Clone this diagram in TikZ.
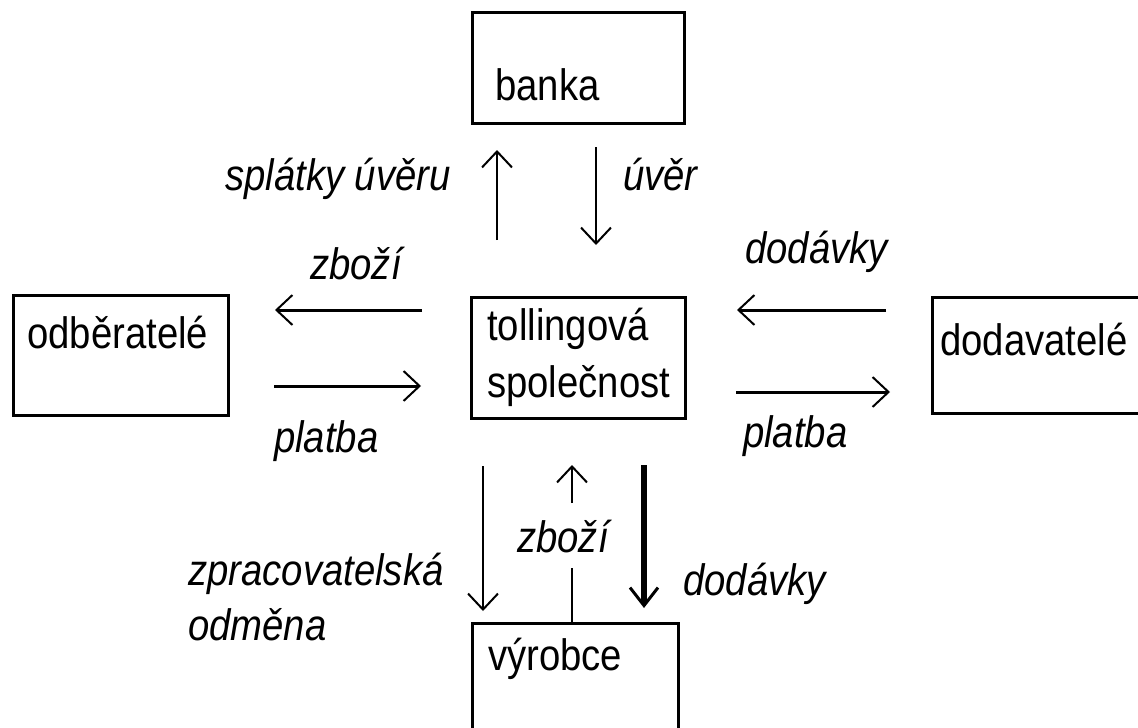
\documentclass[tikz,border=0pt]{standalone}
\usepackage{fontspec}
\setmainfont{Liberation Sans}[FakeStretch=0.87]
\usetikzlibrary{arrows.meta}
\begin{document}
\begin{tikzpicture}[x=1pt, y=-1pt,
  box/.style={draw, line width=3pt, inner sep=0pt},
  txt/.style={inner sep=0pt, anchor=base west, align=left,
              font=\fontsize{44}{57}\selectfont},
  lab/.style={inner sep=0pt, anchor=base west, align=left,
              font=\fontsize{44}{55}\selectfont\itshape},
  tip/.style={-{Straight Barb[length=16pt, width=30pt, line width=2pt]}},
  flow/.style={tip, line width=3pt},
  thinflow/.style={tip, line width=2pt},
  heavyflow/.style={-{Straight Barb[length=18pt, width=28pt, line width=3pt]}, line width=5.5pt}
]
\useasboundingbox (0,0) rectangle (1138,728);
\clip (0,0) rectangle (1138,728);
\fill[white] (0,0) rectangle (1138,728);

% boxes
\node[box, minimum width=212pt, minimum height=111pt] (banka) at (578,67.5) {};
\node[box, minimum width=214pt, minimum height=121pt] (firma) at (578,357.5) {};
\node[box, minimum width=215pt, minimum height=120pt] (odb) at (120.5,355) {};
\node[box, minimum width=218pt, minimum height=116pt] (dod) at (1041,355) {};
\node[box, minimum width=206pt, minimum height=130pt] (vyr) at (575,688) {};

% box texts (multi-line nodes are anchored at the baseline of their last line)
\node[txt] (bankaT) at (495,100) {banka};
\node[txt] (firmaT) at (487,397) {tollingová\\společnost};
\node[txt] (odbT) at (27,348) {odběratelé};
\node[txt] (dodT) at (940,355) {dodavatelé};
\node[txt] (vyrT) at (488,670) {výrobce};

% flow labels
\node[lab] (splatky) at (225,190) {splátky úvěru};
\node[lab] (uver) at (623,190) {úvěr};
\node[lab] (zboziL) at (310,279) {zboží};
\node[lab] (platbaL) at (274,452) {platba};
\node[lab] (dodavkyR) at (745,263) {dodávky};
\node[lab] (platbaR) at (743,447) {platba};
\node[lab] (zboziM) at (517,552) {zboží};
\node[lab] (odmena) at (188,640) {zpracovatelská\\odměna};
\node[lab] (dodavkyM) at (683,595) {dodávky};

% arrow end points
\coordinate (a1) at (422,310); \coordinate (b1) at (275,310);
\coordinate (a2) at (274,386); \coordinate (b2) at (421,386);
\coordinate (a3) at (886,310); \coordinate (b3) at (737,310);
\coordinate (a4) at (736,392); \coordinate (b4) at (890,392);
\coordinate (a5) at (497,240); \coordinate (b5) at (497,150);
\coordinate (a6) at (596,147); \coordinate (b6) at (596,245);
\coordinate (a7) at (483,466); \coordinate (b7) at (483,611);
\coordinate (m8) at (572,503); \coordinate (b8) at (572,465);
\coordinate (n8) at (572,568);
\coordinate (a9) at (644,465); \coordinate (b9) at (644,608);

% goods and payments between the company and its partners
\draw[flow] (a1) -- (b1);
\draw[flow] (a2) -- (b2);
\draw[flow] (a3) -- (b3);
\draw[flow] (a4) -- (b4);

% bank
\draw[thinflow] (a5) -- (b5);
\draw[thinflow] (a6) -- (b6);

% producer
\draw[thinflow] (a7) -- (b7);
\draw[line width=2pt] (vyr.north -| n8) -- (n8);
\draw[thinflow] (m8) -- (b8);
\draw[heavyflow] (a9) -- (b9);
\end{tikzpicture}
\end{document}
